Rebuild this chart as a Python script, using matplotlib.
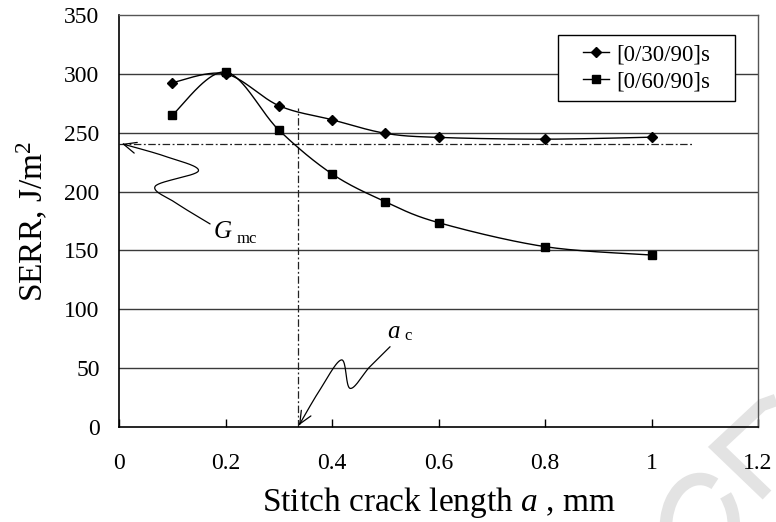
import numpy as np
import matplotlib
matplotlib.use("Agg")
import matplotlib.pyplot as plt
from matplotlib.patches import FancyArrowPatch, Rectangle, Arc
from matplotlib.lines import Line2D
from matplotlib.path import Path

plt.rcParams["font.family"] = ["Liberation Serif", "DejaVu Serif"]
plt.rcParams["mathtext.fontset"] = "custom"
plt.rcParams["mathtext.rm"] = "Liberation Serif"
plt.rcParams["mathtext.it"] = "Liberation Serif:italic"

# Stitch crack length a (mm) and strain energy release rate (J/m^2)
crack_length = [0.1, 0.2, 0.3, 0.4, 0.5, 0.6, 0.8, 1.0]
serr_30 = [292.5, 300.0, 273.0, 261.0, 249.5, 246.0, 244.5, 246.2]
serr_60 = [265.0, 301.5, 252.3, 215.0, 191.4, 173.6, 153.2, 146.1]
series_labels = ["[0/30/90]s", "[0/60/90]s"]

g_mc = 240.0          # critical matrix-crack SERR
a_c = 0.337           # critical stitch crack length
x_ticks = [0, 0.2, 0.4, 0.6, 0.8, 1, 1.2]
x_tick_labels = ["0", "0.2", "0.4", "0.6", "0.8", "1", "1.2"]
y_ticks = [0, 50, 100, 150, 200, 250, 300, 350]

fig = plt.figure(figsize=(7.76, 5.22), dpi=100)

# faint watermark strokes in the lower right corner (figure pixel coordinates)
wm = "#e3e3e3"
fig.add_artist(Arc((700, -5), 68, 96, theta1=71, theta2=411, transform=None,
                   color=wm, lw=9, zorder=0))
fig.add_artist(Line2D([767, 717, 762, 776], [27, 75, 117, 122], transform=None,
                      color=wm, lw=9, solid_joinstyle="miter", solid_capstyle="butt",
                      zorder=0))

ax = fig.add_axes([0.1534, 0.182, 0.8234, 0.7893])
ax.set_zorder(1)
ax.patch.set_alpha(0)
ax.set_xlim(0, 1.2)
ax.set_ylim(0, 350)


def smooth_display(xs, ys, n=40):
    """Cardinal (Catmull-Rom) spline through the points, built in screen space."""
    pts = ax.transData.transform(np.column_stack([xs, ys]))
    m = len(pts)
    out = [pts[0]]
    t = np.linspace(0, 1, n)[1:, None]
    for i in range(m - 1):
        p0 = pts[i - 1] if i > 0 else pts[i]
        p1 = pts[i]
        p2 = pts[i + 1]
        p3 = pts[i + 2] if i + 2 < m else pts[i + 1]
        c1 = p1 + (p2 - p0) / 6.0
        c2 = p2 - (p3 - p1) / 6.0
        seg = ((1 - t) ** 3) * p1 + 3 * ((1 - t) ** 2) * t * c1 + 3 * (1 - t) * t ** 2 * c2 + t ** 3 * p2
        out.extend(seg)
    out = np.array(out)
    return ax.transData.inverted().transform(out)


# horizontal grid lines
for yv in y_ticks[1:-1]:
    ax.axhline(yv, color="#3a3a3a", lw=1.0, zorder=1)

# data series: smoothed lines with markers
handles = []
for ys, mk, ms, lab in [(serr_30, "D", 4.8, series_labels[0]),
                        (serr_60, "s", 5.2, series_labels[1])]:
    curve = smooth_display(crack_length, ys)
    ax.plot(curve[:, 0], curve[:, 1], color="black", lw=1.0, zorder=3)
    ax.plot(crack_length, ys, ls="none", marker=mk, ms=ms, color="black", zorder=4)
    h, = ax.plot([], [], color="black", lw=1.0, marker=mk, ms=ms, label=lab)
    handles.append(h)

# critical value guide lines
ax.plot([0.0, 1.078], [g_mc, g_mc], color="#222222", lw=0.9,
        dashes=(6, 2, 1.5, 2), zorder=2)
ax.plot([a_c, a_c], [0, 271], color="#222222", lw=0.9,
        dashes=(6, 2, 1.5, 2), zorder=2)


def curly_arrow(xs, ys):
    curve = smooth_display(xs, ys, n=30)
    arrow = FancyArrowPatch(path=Path(curve), arrowstyle="->,head_length=0.45,head_width=0.2",
                            mutation_scale=20, color="black", lw=0.9, zorder=5)
    ax.add_patch(arrow)


curly_arrow([0.171, 0.108, 0.068, 0.149, 0.089, 0.006],
            [172.5, 190.0, 204.5, 217.5, 229.6, 240.5])
curly_arrow([0.509, 0.471, 0.434, 0.418, 0.377, 0.338],
            [68.2, 51.2, 32.8, 57.0, 31.4, 1.5])

ax.text(0.176, 166, "$G$", fontsize=18, ha="left", va="center", zorder=6)
ax.text(0.220, 160, "mc", fontsize=12, ha="left", va="center", zorder=6)
ax.text(0.504, 81, "$a$", fontsize=18, ha="left", va="center", zorder=6)
ax.text(0.536, 77, "c", fontsize=12, ha="left", va="center", zorder=6)

# axes styling
ax.set_xticks(x_ticks)
ax.set_xticklabels(x_tick_labels)
ax.set_yticks(y_ticks)
ax.tick_params(axis="x", direction="in", length=6, width=1, labelsize=17, pad=19)
ax.tick_params(axis="y", direction="out", length=0, labelsize=17, pad=14)
for side in ["left", "bottom"]:
    ax.spines[side].set_color("black")
    ax.spines[side].set_linewidth(1.2)
for side in ["top", "right"]:
    ax.spines[side].set_color("#555555")
    ax.spines[side].set_linewidth(1.0)

ax.set_xlabel(r"Stitch crack length $a$ , mm", fontsize=24)
ax.xaxis.set_label_coords(0.5, -0.14)
ax.set_ylabel(r"SERR, J/m$^\mathregular{2}$", fontsize=24)
ax.yaxis.set_label_coords(-0.108, 0.5)

# legend box drawn as a framed panel with the legend entries inside it
box = Rectangle((0.687, 0.791), 0.277, 0.160, transform=ax.transAxes,
                facecolor="white", edgecolor="black", lw=1.0, zorder=7)
ax.add_patch(box)
leg = ax.legend(handles=handles, loc="center", bbox_to_anchor=(0.8255, 0.871),
                fontsize=16.5, frameon=False, borderpad=0.0, handlelength=1.15,
                handletextpad=0.3, labelspacing=0.25, borderaxespad=0)
leg.set_zorder(8)

fig.savefig("out.png", dpi=100)
